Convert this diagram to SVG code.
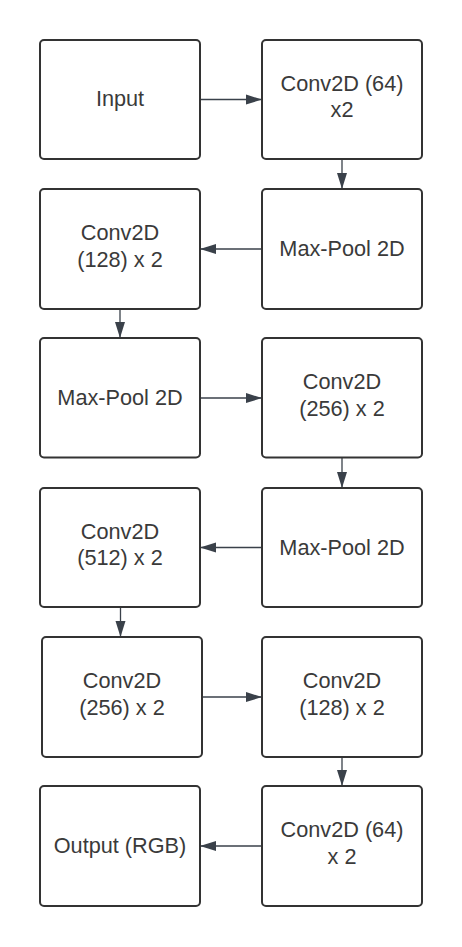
<svg xmlns="http://www.w3.org/2000/svg" width="462" height="947" viewBox="0 0 462 947">
<style>
.box{fill:#ffffff;stroke:#333333;stroke-width:2}
.lbl{font-family:"Liberation Sans",Arial,sans-serif;font-size:21.7px;fill:#3a3a3a;text-anchor:middle}
.conn{stroke:#3a414a;stroke-width:1.3;fill:none;marker-end:url(#ah)}
</style>
<defs>
<marker id="ah" markerUnits="userSpaceOnUse" markerWidth="17" markerHeight="11" refX="16" refY="5.5" orient="auto">
<path d="M0,0.5 L16,5.5 L0,10.5 Z" fill="#3a414a"/>
</marker>
</defs>
<rect width="462" height="947" fill="#ffffff"/>
<g id="connectors">
<line class="conn" x1="201" y1="99.5" x2="262" y2="99.5"/>
<line class="conn" x1="342" y1="160" x2="342" y2="189"/>
<line class="conn" x1="261" y1="249" x2="200" y2="249"/>
<line class="conn" x1="120" y1="310" x2="120" y2="338"/>
<line class="conn" x1="201" y1="398" x2="262" y2="398"/>
<line class="conn" x1="342" y1="458" x2="342" y2="488"/>
<line class="conn" x1="261" y1="547.5" x2="200" y2="547.5"/>
<line class="conn" x1="120.5" y1="608" x2="120.5" y2="637"/>
<line class="conn" x1="203" y1="697" x2="262" y2="697"/>
<line class="conn" x1="342" y1="758" x2="342" y2="786"/>
<line class="conn" x1="261" y1="846" x2="200" y2="846"/>
</g>
<g id="input">
<rect class="box" x="40" y="40" width="160" height="119" rx="4"/>
<text class="lbl" x="120" y="106">Input</text>
</g>
<g id="conv64a">
<rect class="box" x="262" y="40" width="160" height="119" rx="4"/>
<text class="lbl" x="342" y="90.5">Conv2D (64)</text>
<text class="lbl" x="342" y="116.5">x2</text>
</g>
<g id="maxpool1">
<rect class="box" x="262" y="189" width="160" height="120" rx="4"/>
<text class="lbl" x="342" y="256">Max-Pool 2D</text>
</g>
<g id="conv128a">
<rect class="box" x="40" y="189" width="160" height="120" rx="4"/>
<text class="lbl" x="120" y="240">Conv2D</text>
<text class="lbl" x="120" y="266.5">(128) x 2</text>
</g>
<g id="maxpool2">
<rect class="box" x="40" y="338" width="160" height="119.5" rx="4"/>
<text class="lbl" x="120" y="405">Max-Pool 2D</text>
</g>
<g id="conv256a">
<rect class="box" x="262" y="338" width="160" height="119.5" rx="4"/>
<text class="lbl" x="342" y="389">Conv2D</text>
<text class="lbl" x="342" y="415.5">(256) x 2</text>
</g>
<g id="maxpool3">
<rect class="box" x="262" y="488" width="160" height="119" rx="4"/>
<text class="lbl" x="342" y="554.5">Max-Pool 2D</text>
</g>
<g id="conv512">
<rect class="box" x="40" y="488" width="160" height="119" rx="4"/>
<text class="lbl" x="120" y="538.5">Conv2D</text>
<text class="lbl" x="120" y="565">(512) x 2</text>
</g>
<g id="conv256b">
<rect class="box" x="42" y="637" width="160" height="120" rx="4"/>
<text class="lbl" x="122" y="688">Conv2D</text>
<text class="lbl" x="122" y="714.5">(256) x 2</text>
</g>
<g id="conv128b">
<rect class="box" x="262" y="637" width="160" height="120" rx="4"/>
<text class="lbl" x="342" y="688">Conv2D</text>
<text class="lbl" x="342" y="714.5">(128) x 2</text>
</g>
<g id="conv64b">
<rect class="box" x="262" y="786" width="160" height="120" rx="4"/>
<text class="lbl" x="342" y="837">Conv2D (64)</text>
<text class="lbl" x="342" y="863.5">x 2</text>
</g>
<g id="output">
<rect class="box" x="40" y="786" width="160" height="120" rx="4"/>
<text class="lbl" x="120" y="853">Output (RGB)</text>
</g>
</svg>
